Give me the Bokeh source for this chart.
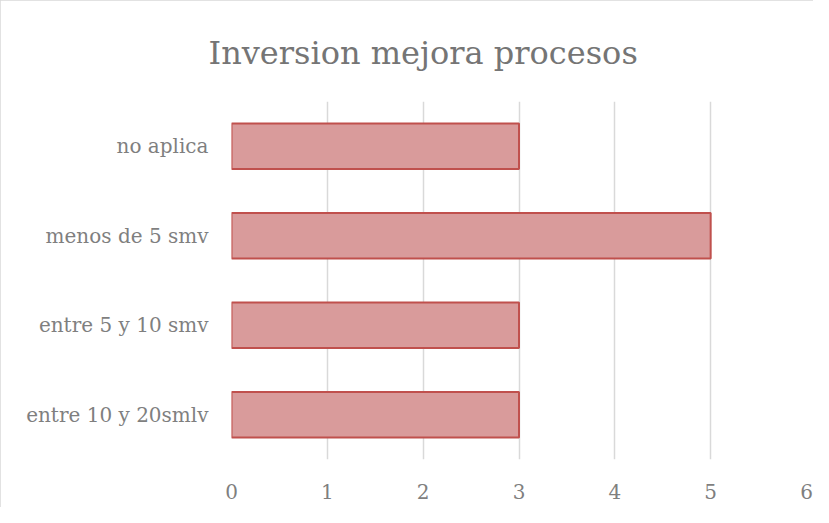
from bokeh.plotting import figure
from bokeh.models import Title, FactorRange, Range1d, FixedTicker
from bokeh.embed import file_html
from bokeh.resources import INLINE

categories = ["entre 10 y 20smlv", "entre 5 y 10 smv", "menos de 5 smv", "no aplica"]
values = [3, 3, 5, 3]
x_ticks = [0, 1, 2, 3, 4, 5, 6]
title_text = "Inversion mejora procesos"

FONT = "DejaVu Serif"

p = figure(width=813, height=507, output_backend="svg", toolbar_location=None,
           y_range=FactorRange(factors=categories), x_range=Range1d(0, 6),
           min_border_left=231, min_border_right=7, min_border_top=101, min_border_bottom=48)

p.hbar(y=categories, right=values, left=0, height=0.51,
       fill_color="#d99b9b", line_color="#c0504d", line_width=2)

t = Title(text=title_text, align="left", text_font=FONT, text_font_size="32px",
          text_color="#757575", text_font_style="normal", offset=-23, standoff=59)
p.add_layout(t, "above")

p.outline_line_color = None
p.ygrid.grid_line_color = None
p.xgrid.grid_line_color = "#d9d9d9"
p.xgrid.grid_line_width = 1.5
p.xaxis.ticker = FixedTicker(ticks=x_ticks)

for ax in (p.xaxis[0], p.yaxis[0]):
    ax.axis_line_color = None
    ax.major_tick_line_color = None
    ax.minor_tick_line_color = None
    ax.major_label_text_font = FONT
    ax.major_label_text_font_size = "20px"
    ax.major_label_text_color = "#7f7f7f"
p.xaxis.major_label_standoff = 18
p.yaxis.major_label_standoff = 17

p.styles = {"outline": "1px solid #d9d9d9", "outline-offset": "-1px"}

open("out.html", "w").write(file_html(p, INLINE))
